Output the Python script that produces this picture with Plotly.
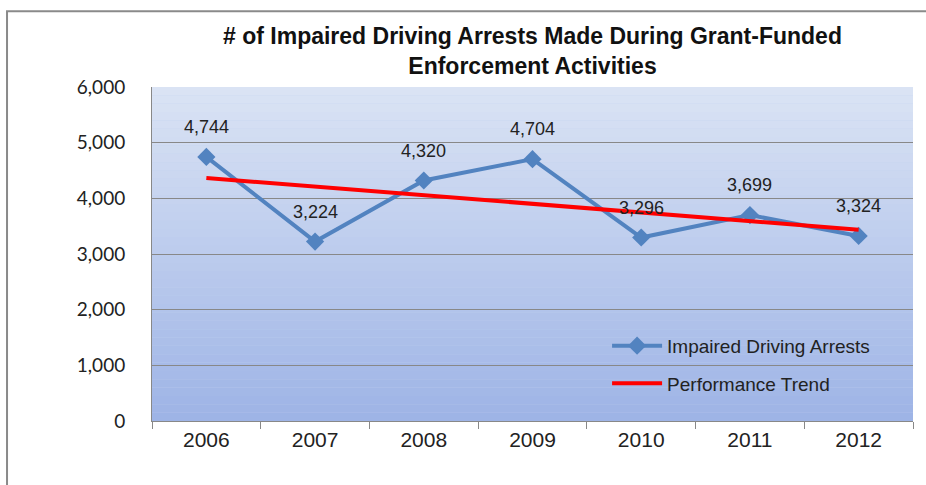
import plotly.graph_objects as go

years = ["2006", "2007", "2008", "2009", "2010", "2011", "2012"]
arrests = [4744, 3224, 4320, 4704, 3296, 3699, 3324]
trend_years = ["2006", "2012"]
trend_values = [4366, 3437]
y_ticks = [0, 1000, 2000, 3000, 4000, 5000, 6000]
y_tick_labels = ["0", "1,000", "2,000", "3,000", "4,000", "5,000", "6,000"]

fig = go.Figure()
fig.add_trace(go.Scatter(
    x=years, y=arrests, name="Impaired Driving Arrests", mode="lines+markers",
    line=dict(color="#5283c0", width=4),
    marker=dict(symbol="diamond", size=14, color="#5283c0"),
    legendgroup="a",
))
fig.add_trace(go.Scatter(
    x=trend_years, y=trend_values, name="Performance Trend", mode="lines",
    line=dict(color="#ff0000", width=4),
    legendgroup="b",
))

for i, yv in enumerate(arrests):
    fig.add_annotation(x=i, y=yv, xref="x", yref="y", text=f"{yv:,}", showarrow=False, yshift=30,
                       font=dict(family="Liberation Sans", size=18, color="#222222"))

# gradient background for the plot area
top = (0xDA, 0xE3, 0xF4)
bot = (0x9E, 0xB4, 0xE6)
n = 40
shapes = []
for i in range(n):
    t = i / (n - 1)
    c = tuple(int(round(top[k] + (bot[k] - top[k]) * t)) for k in range(3))
    shapes.append(dict(type="rect", xref="x domain", yref="y domain",
                       x0=0, x1=1, y0=1 - (i + 1) / n, y1=1 - i / n,
                       fillcolor="rgb(%d,%d,%d)" % c, line=dict(width=0), layer="below"))
# outer frame
shapes.append(dict(type="rect", xref="paper", yref="paper", x0=-0.1905, x1=1.2,
                   y0=-0.4, y1=1.227, line=dict(color="#8a8a8a", width=2),
                   fillcolor="rgba(0,0,0,0)", layer="above"))

fig.update_layout(
    width=926, height=485,
    margin=dict(l=152, r=13, t=87, b=64),
    paper_bgcolor="white", plot_bgcolor="#c0d0ee",
    shapes=shapes,
    title=dict(text="# of Impaired Driving Arrests Made During Grant-Funded<br>Enforcement Activities",
               x=0.5, xref="paper", xanchor="center", y=0.91, yref="container", yanchor="middle",
               font=dict(family="Liberation Sans", size=23, color="#111111", weight="bold")),
    showlegend=True,
    legend=dict(x=0.598, y=0.282, xanchor="left", yanchor="top", bgcolor="rgba(0,0,0,0)",
                font=dict(family="Liberation Sans", size=19, color="#222222"),
                itemwidth=50, traceorder="grouped", tracegroupgap=10),
    xaxis=dict(type="category", tickson="boundaries", ticks="outside", ticklen=7,
               tickcolor="#888888", showgrid=False, showline=True, linecolor="#888888",
               tickfont=dict(family="Liberation Sans", size=21, color="#222222"),
               range=[-0.5, 6.5]),
    yaxis=dict(range=[0, 6000], tickvals=y_ticks, ticktext=y_tick_labels,
               showgrid=True, gridcolor="#888888", gridwidth=1, showline=True,
               linecolor="#888888", ticks="", ticklabelstandoff=22,
               tickfont=dict(family="Lato", size=19, color="#222222"), zeroline=False),
)

fig.write_html("out.html")
